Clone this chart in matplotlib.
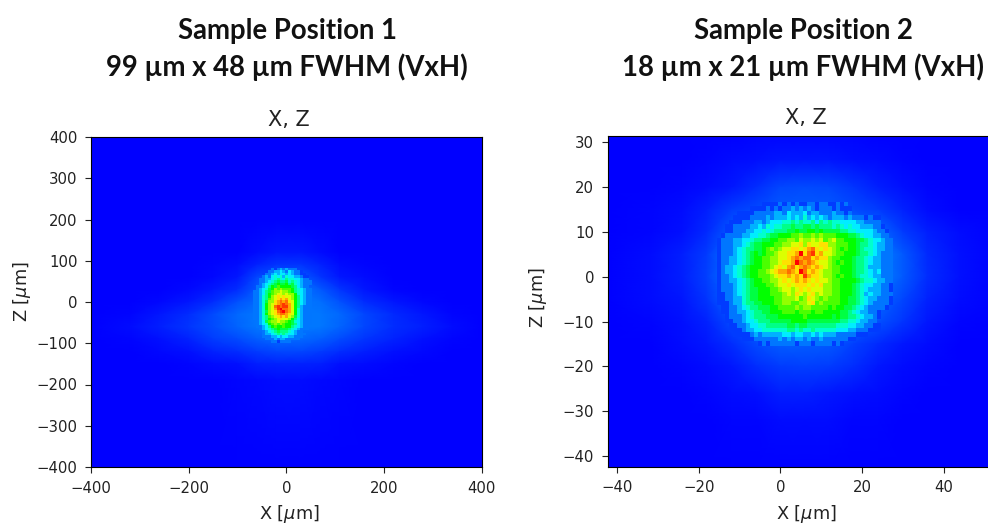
import numpy as np
import matplotlib
matplotlib.use('Agg')
import matplotlib.pyplot as plt
from matplotlib.colors import LinearSegmentedColormap

# sample position 1, faint halo
halo1_x = [-400, -320, -260, -200, -150, -100, -60, -20, 30, 70, 110, 160, 220, 280, 340, 400]
halo1_z = [400, 200, 120, 90, 60, 30, 0, -30, -60, -90, -120, -150, -190, -400]
halo1 = [
    [0, 0, 0, 0, 0, 0, 0, 0, 0, 0, 0, 0, 0, 0, 0, 0],
    [0, 0, 0, 0, 0, 0, 0, 0, 0, 0, 0, 0, 0, 0, 0, 0],
    [0, 0, 0, 0, 0, 0, .2, .4, .4, .2, 0, 0, 0, 0, 0, 0],
    [0, 0, 0, 0, .1, .2, .6, .9, .9, .6, .2, .1, 0, 0, 0, 0],
    [0, 0, 0, .05, .15, .4, 1.2, 1.6, 1.5, .9, .4, .2, .05, 0, 0, 0],
    [0, 0, 0, .15, .4, .8, 1.5, 2, 2, 1.5, .9, .4, .1, 0, 0, 0],
    [0, 0, .15, .4, .8, 1.4, 1.8, 2, 2, 1.9, 1.4, .8, .4, .15, 0, 0],
    [0, .1, .4, .8, 1.3, 1.8, 2, 2, 2, 2, 1.8, 1.2, .7, .4, .1, 0],
    [0, .2, .5, .9, 1.3, 1.7, 2, 2, 2, 2, 1.7, 1.2, .8, .5, .2, 0],
    [0, .1, .3, .6, 1, 1.3, 1.6, 1.8, 1.8, 1.6, 1.3, .9, .6, .3, .1, 0],
    [0, .05, .15, .3, .6, .8, 1, 1.2, 1.2, 1, .8, .5, .3, .15, .05, 0],
    [0, 0, .05, .1, .2, .3, .5, .6, .6, .5, .3, .2, .1, .05, 0, 0],
    [0, 0, 0, 0, .05, .1, .15, .2, .2, .15, .1, .05, 0, 0, 0, 0],
    [0, 0, 0, 0, 0, 0, 0, 0, 0, 0, 0, 0, 0, 0, 0, 0],
]

# sample position 1, spot. one character per bin, base 17, 6 um bins, '.' = no bin drawn
spot1_extent = [-69, 51, -99, 81]
spot1 = [
    "......212323222.....",
    "....1223343243221...",
    "...122343443432211..",
    "...2324545354433211.",
    "..22334565465544322.",
    "..223456766756543222",
    "..234567877867543222",
    ".223468798888764322.",
    ".234578a9a9998654322",
    "2234679aabaa98654322",
    "2234689abbabaa854322",
    "223568abcbcbba864322",
    "223569abcdcdba864322",
    "22357aacdedecb864322",
    "22358abcdefedb864322",
    "22358abefeffdb863222",
    "22358abdfgeedb853222",
    "22357abcefgedb853222",
    "22358abcdeedcb853222",
    "223569abcdcdba753222",
    "2235689abcbba8643222",
    ".23479aabaa987543222",
    ".234589a9a9887643222",
    ".223468988988654322.",
    "..23456787776543222.",
    "...23456766654322...",
    "...233456565443222..",
    "...22233434433222...",
    "....222323322222....",
    "......2212222.......",
]

# sample position 2, faint halo
halo2_x = [-43, -32, -24, -18, -12, -6, 0, 6, 12, 18, 24, 30, 36, 44, 54]
halo2_z = [32, 26, 20, 15, 10, 5, 0, -5, -10, -15, -20, -26, -32, -43]
halo2 = [
    [0, 0, 0, 0, 0, .1, .1, .1, .1, .1, 0, 0, 0, 0, 0],
    [0, 0, 0, .1, .2, .3, .4, .4, .4, .3, .2, .1, 0, 0, 0],
    [0, 0, .1, .2, .4, .8, 1.2, 1.3, 1.2, .9, .5, .3, .1, 0, 0],
    [0, .1, .2, .5, 1, 1.3, 1.5, 1.5, 1.5, 1.3, 1, .6, .2, .05, 0],
    [0, .1, .3, .7, 1.5, 2, 2, 2, 2, 2, 1.8, 1, .5, .2, 0],
    [0, .2, .5, 1, 2, 2, 2, 2, 2, 2, 2.2, 1.5, .7, .3, 0],
    [0, .2, .5, 1.1, 2, 2, 2, 2, 2, 2, 2.2, 1.5, .8, .3, 0],
    [0, .2, .4, .9, 1.8, 2, 2, 2, 2, 2, 1.8, 1.2, .6, .2, 0],
    [0, .1, .3, .6, 1.3, 1.6, 2, 2, 2, 1.7, 1.4, .9, .4, .1, 0],
    [0, .05, .2, .4, .8, 1.3, 1.6, 1.6, 1.5, 1.1, .7, .4, .2, .05, 0],
    [0, 0, .1, .2, .4, .8, 1, 1.1, 1, .8, .4, .2, .1, 0, 0],
    [0, 0, 0, .1, .2, .3, .5, .5, .4, .3, .2, .1, 0, 0, 0],
    [0, 0, 0, 0, .1, .1, .2, .2, .2, .1, .1, 0, 0, 0, 0],
    [0, 0, 0, 0, 0, 0, 0, 0, 0, 0, 0, 0, 0, 0, 0],
]

# sample position 2, spot. 1 um bins
spot2_extent = [-15.5, 27.5, -15.5, 16.5]
spot2 = [
    "...........111121212112212211212...........",
    "........1111212122323232122212111..........",
    ".....1111222223324333423322232212..........",
    "....111122223233343435343432333232221211...",
    "...1112223323444556565564656554444332222...",
    "..112222334354556676677676665654544333221..",
    "..1122233445456667787788787777665544443221.",
    ".1222233445567788899a99a9a9998887765443322.",
    "12223344566778899aa9baabab9ab99888776544322",
    "1222334567788899aabbcacbbccaa99988766543322",
    "1222345667789a9abbccbcdecbcba98988765543322",
    "12223456787899abbccdgcefcdbba99888766543222",
    "1223345678899aabbcdedeecdcca998887665433222",
    "1223345678899aabccdgededcbba989887665433222",
    "1233456788899abcbdecdedcdcba998887665333222",
    "123345678899abcddedcgecdcbaa998887665434222",
    "1223456788999abccdcdcfdccbaa989887655433222",
    "1223345678899aabcbcdcdcbcbba998888765543322",
    "12223456788899abbcbcccbcbcaa998887654433221",
    "122234567788899abbabcbcbbbaa998887654333221",
    "1122345677888999abacbabcabaa998887653433222",
    "1122335677888899aaab9acba9a9998877654332221",
    "1112335667788899aa99aabc9a99998877654322221",
    ".112234566777889999a9aa9999898877654322221.",
    ".112233456677888999899989988887765433221...",
    "..12223456667778888889888888787766543321...",
    "..1122344566677777888877777777665543322....",
    "...1122344556666677677666666655544332211...",
    "...1112334455555566565565555544433222111...",
    "....111123233333443443343433322222111......",
    "......1112222223232332322322222211.........",
    "..........121222222122212222121............",
]

title1 = ["Sample Position 1", "99 µm x 48 µm FWHM (VxH)"]
title2 = ["Sample Position 2", "18 µm x 21 µm FWHM (VxH)"]
ticks1_x = [-400, -200, 0, 200, 400]
ticks1_z = [-400, -300, -200, -100, 0, 100, 200, 300, 400]
ticks2_x = [-40, -20, 0, 20, 40]
ticks2_z = [-40, -30, -20, -10, 0, 10, 20, 30]

W, H = 988, 524
cmap = LinearSegmentedColormap.from_list(
    'beam', [(0, '#0000ff'), (.27, '#00ffff'), (.5, '#00ff00'), (.72, '#ffff00'), (1, '#ff0000')])


def decode(rows):
    n = max(len(r) for r in rows)
    return np.array([[np.nan if c == '.' else int(c, 17) for c in r.ljust(n, '.')] for r in rows])


def panel(box, xlim, zlim, hx, hz, halo, spot, extent, xticks, zticks, title_x, xlab_x, zlab):
    left, top, right, bottom = box
    width, height = right - left, bottom - top
    ax = fig.add_axes([left / W, 1 - bottom / H, width / W, height / H])
    ax.pcolormesh(hx, hz, np.array(halo), shading='gouraud', cmap=cmap, vmin=0, vmax=16, zorder=1)
    ax.imshow(decode(spot), extent=extent, aspect='auto', cmap=cmap, vmin=0, vmax=16,
              interpolation='nearest', origin='upper', zorder=2)
    ax.set_xlim(xlim)
    ax.set_ylim(zlim)
    ax.set_xticks(xticks)
    ax.set_yticks(zticks)
    ax.tick_params(labelsize=10.7, colors='#222222', length=4.3, pad=5.5)
    ax.set_xlabel(r'X [$\mu$m]', fontsize=12.8, color='#222222')
    ax.set_ylabel(r'Z [$\mu$m]', fontsize=12.8, color='#222222')
    ax.xaxis.set_label_coords((xlab_x - left) / width, -(503 - bottom) / height)
    ax.yaxis.set_label_coords((zlab[0] + 13 - left) / width, (bottom - zlab[1]) / height)
    ax.text((title_x - left) / width, 1.022, 'X, Z', transform=ax.transAxes,
            ha='center', va='bottom', fontsize=15, color='#222222')
    return ax


fig = plt.figure(figsize=(W / 100, H / 100), dpi=100)

panel((91, 137, 481.5, 467), (-400, 400), (-400, 400), halo1_x, halo1_z, halo1,
      spot1, spot1_extent, ticks1_x, ticks1_z, 289, 289, (20, 292))
panel((607.7, 135.7, 1000, 466.7), (-42.3, 53.8), (-42.4, 31.5), halo2_x, halo2_z, halo2,
      spot2, spot2_extent, ticks2_x, ticks2_z, 806, 806, (536, 298))

for cx, lines in ((287, title1), (803, title2)):
    for y, line in zip((31, 67), lines):
        fig.text(cx / W, 1 - y / H, line, ha='center', va='center',
                 family='Lato', weight='bold', fontsize=19.8, color='#111111')

fig.savefig('out.png', dpi=100)
plt.close(fig)
